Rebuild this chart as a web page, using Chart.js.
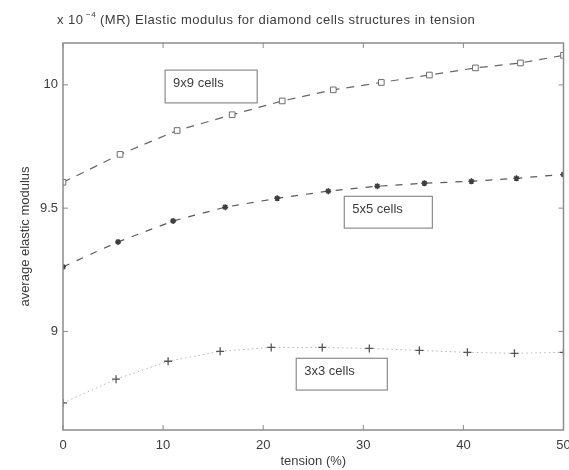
<!DOCTYPE html>
<html>
<head>
<meta charset="utf-8">
<script src="https://cdn.jsdelivr.net/npm/chart.js@4.4.0/dist/chart.umd.min.js"></script>
<style>
  body { margin: 0; background: #fff; }
  #wrap { width: 569px; height: 470px; }
</style>
</head>
<body>
<div id="wrap"><canvas id="myChart" width="569" height="470"></canvas></div>
<script>
// tension (%) at which each mesh was sampled
var tension9 = [0, 5.7, 11.4, 16.9, 21.9, 27.0, 31.8, 36.6, 41.2, 45.7, 50];
var tension5 = [0, 5.5, 11.0, 16.2, 21.4, 26.5, 31.4, 36.1, 40.8, 45.3, 50];
var tension3 = [0, 5.3, 10.5, 15.7, 20.8, 25.9, 30.6, 35.6, 40.4, 45.1, 50];

// average elastic modulus (x 10^-4)
var modulus9 = [9.605, 9.718, 9.815, 9.879, 9.935, 9.980, 10.010, 10.040, 10.069, 10.089, 10.120];
var modulus5 = [9.262, 9.363, 9.448, 9.504, 9.540, 9.569, 9.589, 9.601, 9.609, 9.621, 9.637];
var modulus3 = [8.710, 8.806, 8.879, 8.919, 8.935, 8.935, 8.931, 8.923, 8.915, 8.911, 8.915];

var seriesNames = ['9x9 cells', '5x5 cells', '3x3 cells'];
var xTicks = [0, 10, 20, 30, 40, 50];
var yTicks = [9, 9.5, 10];

var FONT = '"Liberation Sans", Arial, sans-serif';
var INK = '#3c3c3c';
var FRAME = '#8c8c8c';

function pairs(xs, ys) {
    return xs.map(function (x, i) { return { x: x, y: ys[i] }; });
}

// text boxes placed in data units: [xLeft, xRight, yTop, yBottom]
var boxes = [
    [10.2, 19.4, 10.06, 9.927],
    [28.1, 36.9, 9.548, 9.419],
    [23.3, 32.4, 8.891, 8.762]
];

var matlabFrame = {
    id: 'matlabFrame',
    afterDraw: function (chart) {
        var ctx = chart.ctx;
        var a = chart.chartArea;
        var xs = chart.scales.x, ys = chart.scales.y;
        ctx.save();

        // axes box
        ctx.strokeStyle = FRAME;
        ctx.lineWidth = 1.5;
        ctx.strokeRect(a.left, a.top, a.right - a.left, a.bottom - a.top);

        // inward tick marks on all four sides
        ctx.lineWidth = 1;
        ctx.beginPath();
        xTicks.forEach(function (v) {
            var px = xs.getPixelForValue(v);
            ctx.moveTo(px, a.bottom); ctx.lineTo(px, a.bottom - 5);
            ctx.moveTo(px, a.top); ctx.lineTo(px, a.top + 5);
        });
        yTicks.forEach(function (v) {
            var py = ys.getPixelForValue(v);
            ctx.moveTo(a.left, py); ctx.lineTo(a.left + 5, py);
            ctx.moveTo(a.right, py); ctx.lineTo(a.right - 5, py);
        });
        ctx.stroke();

        // title with the exponent of the y values
        ctx.fillStyle = INK;
        ctx.textBaseline = 'alphabetic';
        ctx.letterSpacing = '0.5px';
        ctx.font = '13px ' + FONT;
        ctx.fillText('x 10', 57, 24);
        ctx.font = '8px ' + FONT;
        ctx.fillText('\u22124', 86, 17);
        ctx.font = '13px ' + FONT;
        ctx.fillText('(MR) Elastic modulus for diamond cells structures in tension', 100, 24);
        ctx.letterSpacing = '0px';

        // series labels in boxes
        ctx.font = '13px ' + FONT;
        ctx.textBaseline = 'middle';
        boxes.forEach(function (b, i) {
            var x0 = xs.getPixelForValue(b[0]), x1 = xs.getPixelForValue(b[1]);
            var y0 = ys.getPixelForValue(b[2]), y1 = ys.getPixelForValue(b[3]);
            ctx.strokeStyle = FRAME;
            ctx.lineWidth = 1.2;
            ctx.strokeRect(x0, y0, x1 - x0, y1 - y0);
            ctx.fillStyle = INK;
            ctx.fillText(seriesNames[i], x0 + 8, (y0 + y1) / 2 - 3);
        });
        ctx.restore();
    }
};

var ctx = document.getElementById('myChart').getContext('2d');
var chart = new Chart(ctx, {
    type: 'line',
    data: {
        datasets: [{
            label: seriesNames[0],
            data: pairs(tension9, modulus9),
            borderColor: '#666666',
            borderWidth: 1.2,
            borderDash: [8, 7],
            pointStyle: 'rect',
            pointRadius: 4,
            pointBorderWidth: 1,
            pointBorderColor: '#6e6e6e',
            pointBackgroundColor: '#ffffff'
        }, {
            label: seriesNames[1],
            data: pairs(tension5, modulus5),
            borderColor: '#5a5a5a',
            borderWidth: 1.2,
            borderDash: [7, 8],
            pointStyle: 'star',
            pointRadius: 3,
            pointBorderWidth: 1.5,
            pointBorderColor: '#3e3e3e',
            pointBackgroundColor: '#3e3e3e'
        }, {
            label: seriesNames[2],
            data: pairs(tension3, modulus3),
            borderColor: '#b4b4b4',
            borderWidth: 1,
            borderDash: [1.5, 3],
            pointStyle: 'crossRot',
            rotation: 45,
            pointRadius: 4,
            pointBorderWidth: 1.3,
            pointBorderColor: '#555555'
        }]
    },
    options: {
        responsive: false,
        animation: false,
        layout: { padding: { top: 43, right: 5, left: 0, bottom: 0 } },
        plugins: {
            legend: { display: false },
            tooltip: { enabled: false }
        },
        scales: {
            x: {
                type: 'linear',
                min: 0,
                max: 50,
                grid: { display: false, drawTicks: false },
                border: { display: false },
                ticks: {
                    stepSize: 10,
                    padding: 8,
                    color: INK,
                    font: { family: FONT, size: 13 },
                    maxRotation: 0
                },
                title: {
                    display: true,
                    text: 'tension (%)',
                    color: INK,
                    font: { family: FONT, size: 13 },
                    padding: { top: 0, bottom: 1 }
                },
                afterFit: function (scale) {
                    scale.height = 40;
                    scale.paddingLeft = 0;
                    scale.paddingRight = 0;
                }
            },
            y: {
                min: 8.6,
                max: 10.17,
                grid: { display: false, drawTicks: false },
                border: { display: false },
                ticks: {
                    padding: 5,
                    color: INK,
                    font: { family: FONT, size: 13 },
                    callback: function (v) { return String(v); }
                },
                afterBuildTicks: function (scale) {
                    scale.ticks = yTicks.map(function (v) { return { value: v }; });
                },
                title: {
                    display: true,
                    text: 'average elastic modulus',
                    color: INK,
                    font: { family: FONT, size: 13 },
                    padding: { top: 18, bottom: 0 }
                },
                afterFit: function (scale) {
                    scale.width = 63;
                    scale.paddingTop = 0;
                    scale.paddingBottom = 0;
                }
            }
        }
    },
    plugins: [matlabFrame]
});
</script>
</body>
</html>
